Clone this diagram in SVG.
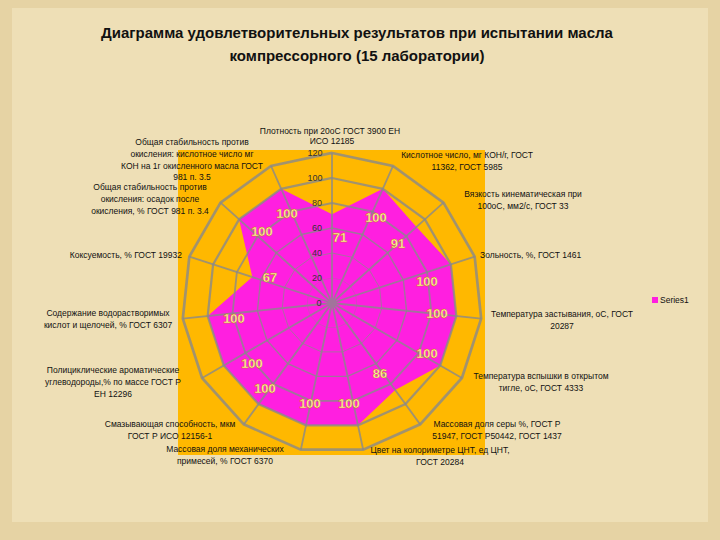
<svg xmlns="http://www.w3.org/2000/svg" width="720" height="540" viewBox="0 0 720 540">
<style>
.t{font-family:"Liberation Sans",Arial,sans-serif;font-size:8.5px;fill:#111;text-anchor:middle}
.tk{font-family:"Liberation Sans",Arial,sans-serif;font-size:9px;fill:#333;text-anchor:middle}
.v{font-family:"Liberation Sans",Arial,sans-serif;font-size:13px;font-weight:bold;fill:#fff6b0;stroke:#c87800;stroke-width:0.4;text-anchor:middle}
.ttl{font-family:"Liberation Sans",Arial,sans-serif;font-size:15px;font-weight:bold;fill:#111;text-anchor:middle}
.g{fill:none;stroke:#8a8a8a;stroke-width:1.8;stroke-opacity:0.8}
</style>
<defs>
<polygon id="ring" points="0,-100 40.67,-91.35 74.31,-66.91 95.11,-30.9 99.45,10.45 86.6,50 58.78,80.9 20.79,97.81 -20.79,97.81 -58.78,80.9 -86.6,50 -99.45,10.45 -95.11,-30.9 -74.31,-66.91 -40.67,-91.35"/>
</defs>
<rect width="720" height="540" fill="#e6d3a4"/>
<rect x="12" y="8" width="696" height="514" fill="#eedfb6"/>
<text class="ttl" x="357" y="38">Диаграмма удовлетворительных результатов при испытании масла</text>
<text class="ttl" x="357" y="61">компрессорного (15 лаборатории)</text>
<rect id="plot" x="178" y="150" width="307" height="305" fill="#ffb800"/>
<g id="series">
<polygon fill="#ff1fe0" points="332,214.3 382.8,188.8 416.5,226.9 450.9,264.4 456.3,316.1 440.3,365.5 395.2,390 358,425.3 306,425.3 258.5,404.1 223.7,365.5 207.7,316.1 252.3,277.1 239.1,219.4 281.2,188.8"/>
</g>
<g id="grid" class="g">
<use href="#ring" transform="translate(332,303) scale(0.25)" style="vector-effect:non-scaling-stroke"/>
<use href="#ring" transform="translate(332,303) scale(0.5)" style="vector-effect:non-scaling-stroke"/>
<use href="#ring" transform="translate(332,303) scale(0.75)" style="vector-effect:non-scaling-stroke"/>
<use href="#ring" transform="translate(332,303) scale(1)" style="vector-effect:non-scaling-stroke"/>
<use href="#ring" transform="translate(332,303) scale(1.25)" style="vector-effect:non-scaling-stroke"/>
<use href="#ring" transform="translate(332,303) scale(1.5)" style="vector-effect:non-scaling-stroke"/>
<path transform="translate(332,303) scale(1.5)" style="vector-effect:non-scaling-stroke" d="M0 0L0 -100M0 0L40.67 -91.35M0 0L74.31 -66.91M0 0L95.11 -30.9M0 0L99.45 10.45M0 0L86.6 50M0 0L58.78 80.9M0 0L20.79 97.81M0 0L-20.79 97.81M0 0L-58.78 80.9M0 0L-86.6 50M0 0L-99.45 10.45M0 0L-95.11 -30.9M0 0L-74.31 -66.91M0 0L-40.67 -91.35"/>
</g>
<g id="ticks">
<text class="tk" x="319" y="306">0</text>
<text class="tk" x="317" y="281">20</text>
<text class="tk" x="317" y="256">40</text>
<text class="tk" x="317" y="231">60</text>
<text class="tk" x="317" y="206">80</text>
<text class="tk" x="315" y="181">100</text>
<text class="tk" x="315" y="156">120</text>
</g>
<g id="values">
<text class="v" x="340" y="242">71</text>
<text class="v" x="376" y="222">100</text>
<text class="v" x="398" y="248">91</text>
<text class="v" x="427" y="286">100</text>
<text class="v" x="437" y="318">100</text>
<text class="v" x="427" y="358">100</text>
<text class="v" x="380" y="378">86</text>
<text class="v" x="349" y="408">100</text>
<text class="v" x="310" y="408">100</text>
<text class="v" x="265" y="393">100</text>
<text class="v" x="252" y="368">100</text>
<text class="v" x="234" y="323">100</text>
<text class="v" x="270" y="282">67</text>
<text class="v" x="262" y="236">100</text>
<text class="v" x="287" y="218">100</text>
</g>
<g id="labels">
<text class="t" x="330" y="134">Плотность при 20оС ГОСТ 3900 ЕН</text>
<text class="t" x="332" y="144">ИСО 12185</text>
<text class="t" x="467" y="158">Кислотное число, мг КОН/г, ГОСТ</text>
<text class="t" x="467" y="170">11362, ГОСТ 5985</text>
<text class="t" x="523" y="197">Вязкость кинематическая при</text>
<text class="t" x="523" y="209">100оС, мм2/с, ГОСТ 33</text>
<text class="t" x="480" y="258" style="text-anchor:start">Зольность, %, ГОСТ 1461</text>
<text class="t" x="562" y="317">Температура застывания, оС, ГОСТ</text>
<text class="t" x="562" y="329">20287</text>
<text class="t" x="541" y="379">Температура вспышки в открытом</text>
<text class="t" x="541" y="391">тигле, оС, ГОСТ 4333</text>
<text class="t" x="497" y="427">Массовая доля серы %, ГОСТ Р</text>
<text class="t" x="497" y="439">51947, ГОСТ Р50442, ГОСТ 1437</text>
<text class="t" x="440" y="453">Цвет на колориметре ЦНТ, ед ЦНТ,</text>
<text class="t" x="440" y="465">ГОСТ 20284</text>
<text class="t" x="225" y="452">Массовая доля механических</text>
<text class="t" x="225" y="464">примесей, % ГОСТ 6370</text>
<text class="t" x="170" y="427">Смазывающая способность, мкм</text>
<text class="t" x="170" y="439">ГОСТ Р ИСО 12156-1</text>
<text class="t" x="113" y="373">Полициклические ароматические</text>
<text class="t" x="113" y="385">углеводороды,% по массе ГОСТ Р</text>
<text class="t" x="113" y="397">ЕН 12296</text>
<text class="t" x="108" y="316">Содержание водорастворимых</text>
<text class="t" x="108" y="328">кислот и щелочей, % ГОСТ 6307</text>
<text class="t" x="182" y="258" style="text-anchor:end">Коксуемость, % ГОСТ 19932</text>
<text class="t" x="150" y="190">Общая стабильность против</text>
<text class="t" x="150" y="202">окисления: осадок после</text>
<text class="t" x="150" y="214">окисления, % ГОСТ 981 п. 3.4</text>
<text class="t" x="192" y="145">Общая стабильность против</text>
<text class="t" x="192" y="157">окисления: кислотное число мг</text>
<text class="t" x="192" y="169">КОН на 1г окисленного масла ГОСТ</text>
<text class="t" x="192" y="180">981 п. 3.5</text>
</g>
<g id="legend">
<rect x="652" y="297" width="6" height="6" fill="#ff1fe0"/>
<text class="t" x="660" y="303" style="text-anchor:start">Series1</text>
</g>
</svg>
